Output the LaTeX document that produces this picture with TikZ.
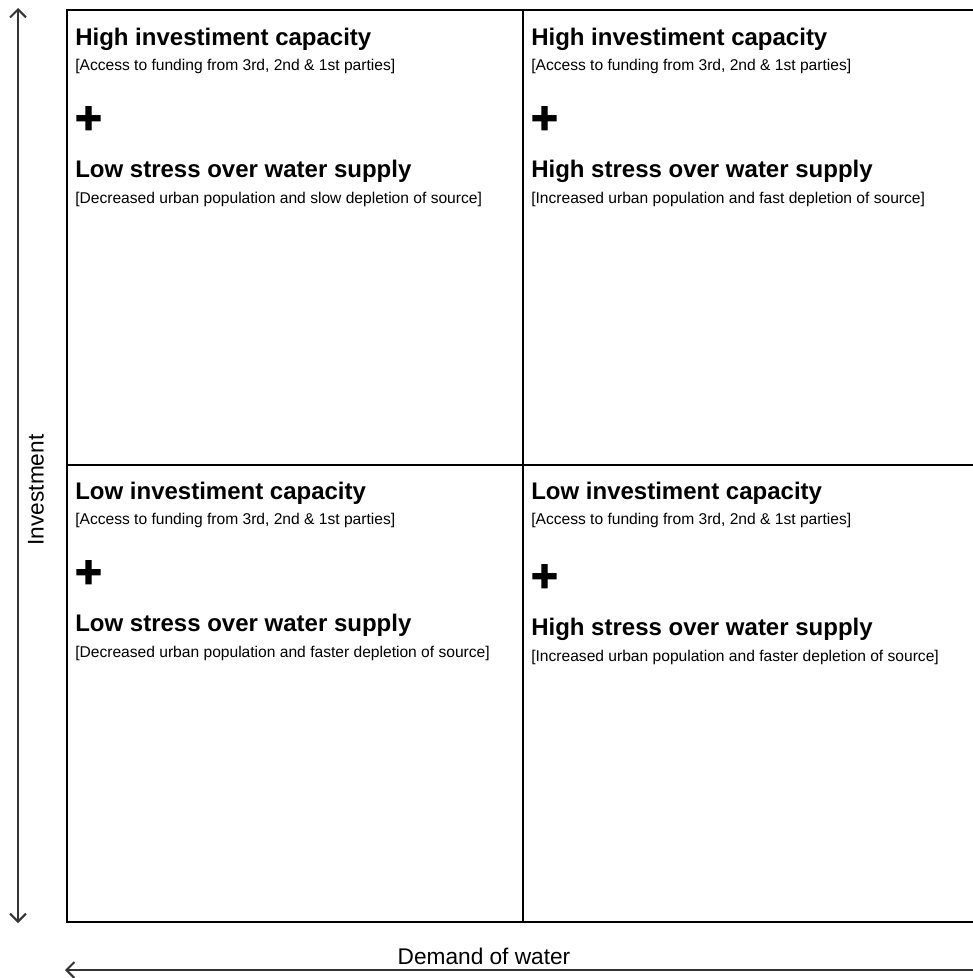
\documentclass[tikz,border=0pt]{standalone}
\usepackage{fontspec}
\setmainfont{Liberation Sans}
\newfontfamily\plusfont[FakeBold=3]{Liberation Sans}
\usetikzlibrary{arrows.meta}

\begin{document}
\begin{tikzpicture}[
  x=0.75pt, y=-0.75pt,
  grid/.style={draw=black, line width=0.8pt},
  axis/.style={draw=black!80, line width=1.5pt, {Straight Barb[length=6pt,width=12pt]}-{Straight Barb[length=6pt,width=12pt]}},
  axisl/.style={draw=black!80, line width=1.5pt, {Straight Barb[length=6pt,width=12pt]}-},
  ttl/.style={anchor=base west, inner sep=0pt, font=\fontsize{18}{22}\selectfont\bfseries},
  note/.style={anchor=base west, inner sep=0pt, font=\fontsize{11.7}{14}\selectfont},
  pls/.style={anchor=west, inner sep=0pt, font=\fontsize{34}{34}\selectfont\plusfont\bfseries},
  axlbl/.style={inner sep=0pt, font=\fontsize{17}{20}\selectfont}
]
\useasboundingbox (0,0) rectangle (972,978);

% ---- grid ----
\draw[grid] (990,10) -- (67,10) -- (67,922) -- (990,922);
\draw[grid] (523,10) -- (523,922);
\draw[grid] (67,465) -- (990,465);

% ---- quadrants ----
\foreach \q/\x/\y/\d/\inv/\str/\src in {
  tl/75/0/0/High/Low/Decreased urban population and slow depletion of source,
  tr/531/0/0/High/High/Increased urban population and fast depletion of source,
  bl/75/454/0/Low/Low/Decreased urban population and faster depletion of source,
  br/531/454/4/Low/High/Increased urban population and faster depletion of source} {
  \node[ttl] (inv-\q) at (\x,45+\y) {\inv\ investiment capacity};
  \node[note] (fund-\q) at (\x,70+\y) {[Access to funding from 3rd, 2nd \& 1st parties]};
  \node[pls] (plus-\q) at (\x,120+\y+\d) {+};
  \node[ttl] (str-\q) at (\x,177+\y+\d) {\str\ stress over water supply};
  \node[note] (src-\q) at (\x,203+\y+\d) {[\src]};
}

% ---- axes ----
\coordinate (inv-top) at (18,8);
\coordinate (inv-bot) at (18,923);
\draw[axis] (inv-top) -- (inv-bot);
\node[axlbl, rotate=90] (inv-lbl) at (36,490) {Investment};

\coordinate (dem-left) at (65,970);
\coordinate (dem-right) at (990,970);
\draw[axisl] (dem-left) -- (dem-right);
\node[axlbl, anchor=base] (dem-lbl) at (484,964) {Demand of water};

\end{tikzpicture}
\end{document}
